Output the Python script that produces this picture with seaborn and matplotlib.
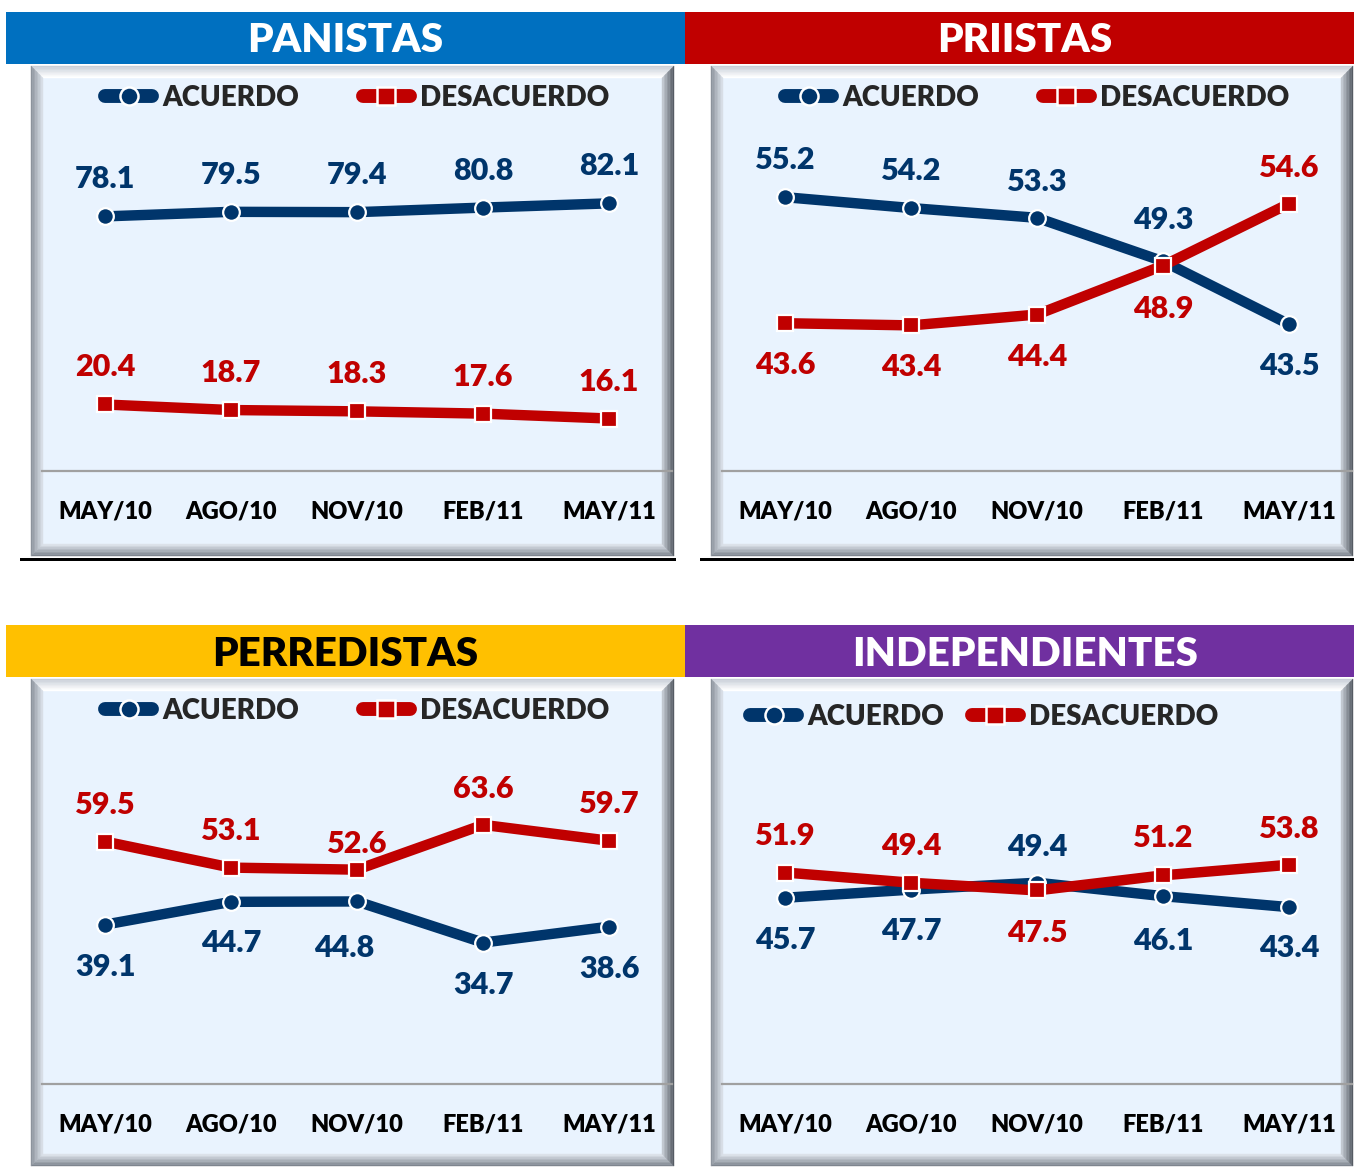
import matplotlib
matplotlib.use("Agg")
import matplotlib.pyplot as plt
from matplotlib.lines import Line2D
from matplotlib.patches import Polygon, Rectangle
import numpy as np
import pandas as pd
import seaborn as sns

# ---------------- data ----------------
PERIODOS = ["MAY/10", "AGO/10", "NOV/10", "FEB/11", "MAY/11"]
SERIES = ["ACUERDO", "DESACUERDO"]

PANISTAS_ACUERDO = [78.1, 79.5, 79.4, 80.8, 82.1]
PANISTAS_DESACUERDO = [20.4, 18.7, 18.3, 17.6, 16.1]
PRIISTAS_ACUERDO = [55.2, 54.2, 53.3, 49.3, 43.5]
PRIISTAS_DESACUERDO = [43.6, 43.4, 44.4, 48.9, 54.6]
PERREDISTAS_ACUERDO = [39.1, 44.7, 44.8, 34.7, 38.6]
PERREDISTAS_DESACUERDO = [59.5, 53.1, 52.6, 63.6, 59.7]
INDEP_ACUERDO = [45.7, 47.7, 49.4, 46.1, 43.4]
INDEP_DESACUERDO = [51.9, 49.4, 47.5, 51.2, 53.8]

TITLES = ["PANISTAS", "PRIISTAS", "PERREDISTAS", "INDEPENDIENTES"]

# ---------------- style ----------------
W, H = 1354, 1167
NAVY = "#00356B"
RED = "#C00000"
HEADER_COLORS = ["#0070C0", "#C00000", "#FFC000", "#7030A0"]
TITLE_COLORS = ["white", "white", "black", "white"]
FACE = "#E9F3FE"
WEIGHT = "heavy"

sns.set_style("white")
plt.rcParams["font.family"] = ["Lato", "DejaVu Sans"]
plt.rcParams["font.weight"] = WEIGHT

fig = plt.figure(figsize=(W / 100, H / 100), dpi=100)
bg = fig.add_axes([0, 0, 1, 1], zorder=0)
bg.set_xlim(0, W)
bg.set_ylim(H, 0)
bg.axis("off")


def mix(c1, c2, t):
    a = np.array(matplotlib.colors.to_rgb(c1))
    b = np.array(matplotlib.colors.to_rgb(c2))
    return tuple(a + (b - a) * t)


def bevel_panel(x0, y0, x1, y1, w=12, n=8):
    bg.add_patch(Rectangle((x0, y0), x1 - x0, y1 - y0, facecolor=FACE, edgecolor="none"))
    sides = {
        "top": ("#C9CFD8", "#FFFFFF"),
        "left": ("#8C939C", "#D8DEE6"),
        "right": ("#555B63", "#C2C8D0"),
        "bottom": ("#7E858E", "#DCE2EA"),
    }
    for i in range(n):
        t0 = w * i / n
        t1 = w * (i + 1) / n
        f = i / max(n - 1, 1)
        polys = {
            "top": [(x0 + t0, y0 + t0), (x1 - t0, y0 + t0), (x1 - t1, y0 + t1), (x0 + t1, y0 + t1)],
            "bottom": [(x0 + t0, y1 - t0), (x1 - t0, y1 - t0), (x1 - t1, y1 - t1), (x0 + t1, y1 - t1)],
            "left": [(x0 + t0, y0 + t0), (x0 + t0, y1 - t0), (x0 + t1, y1 - t1), (x0 + t1, y0 + t1)],
            "right": [(x1 - t0, y0 + t0), (x1 - t0, y1 - t0), (x1 - t1, y1 - t1), (x1 - t1, y0 + t1)],
        }
        for k, pts in polys.items():
            c = mix(sides[k][0], sides[k][1], f)
            bg.add_patch(Polygon(pts, closed=True, facecolor=c, edgecolor=c, lw=0.3))


# layout (pixels, y downward)
HEADERS = [(6, 12, 685, 64), (685, 12, 1354, 64), (6, 625, 685, 677), (685, 625, 1354, 677)]
TITLE_X = [345, 1025, 345, 1025]
PANELS = [(31, 66, 674, 556), (711, 66, 1353, 556), (31, 679, 674, 1166), (711, 679, 1353, 1166)]
AXES = [(42, 145, 672, 471), (722, 145, 1352, 471), (42, 758, 672, 1084), (722, 758, 1352, 1084)]
YLIMS = [(0, 100), (30, 60), (0, 80), (0, 80)]
LEGEND_POS = [(357, 98, 2.3), (1037, 98, 2.3), (357, 711, 2.3), (984, 717, 1.0)]

# label offsets (dx, dy) in pixels, dy positive = downward
OFFSETS = [
    ([(0, -37)] * 5, [(0, -37)] * 5),
    ([(0, -37), (0, -37), (0, -36), (0, -41), (0, 42)],
     [(0, 42), (0, 42), (0, 42), (0, 43), (0, -36)]),
    ([(0, 42), (0, 41), (-13, 47), (0, 42), (0, 42)],
     [(0, -37), (0, -37), (0, -26), (0, -36), (0, -37)]),
    ([(0, 42), (0, 41), (0, -36), (0, 45), (0, 41)],
     [(0, -37), (0, -37), (0, 43), (0, -37), (0, -36)]),
]

DATA = [
    (PANISTAS_ACUERDO, PANISTAS_DESACUERDO),
    (PRIISTAS_ACUERDO, PRIISTAS_DESACUERDO),
    (PERREDISTAS_ACUERDO, PERREDISTAS_DESACUERDO),
    (INDEP_ACUERDO, INDEP_DESACUERDO),
]

# black separators under top panels
bg.add_patch(Rectangle((20, 558), 656, 3, facecolor="black", edgecolor="none"))
bg.add_patch(Rectangle((700, 558), 654, 3, facecolor="black", edgecolor="none"))

for idx in range(4):
    hx0, hy0, hx1, hy1 = HEADERS[idx]
    bg.add_patch(Rectangle((hx0, hy0), hx1 - hx0, hy1 - hy0, facecolor=HEADER_COLORS[idx], edgecolor="none"))
    bg.text(TITLE_X[idx], (hy0 + hy1) / 2 + 3, TITLES[idx], color=TITLE_COLORS[idx],
            fontsize=29, fontweight=WEIGHT, ha="center", va="center")
    bevel_panel(*PANELS[idx])

    ax0, ay0, ax1, ay1 = AXES[idx]
    ax = fig.add_axes([ax0 / W, 1 - ay1 / H, (ax1 - ax0) / W, (ay1 - ay0) / H], zorder=2)
    ax.patch.set_alpha(0)

    acuerdo, desacuerdo = DATA[idx]
    df = pd.DataFrame({
        "periodo": PERIODOS * 2,
        "valor": list(acuerdo) + list(desacuerdo),
        "serie": [SERIES[0]] * 5 + [SERIES[1]] * 5,
    })
    sns.lineplot(data=df, x="periodo", y="valor", hue="serie", style="serie",
                 hue_order=SERIES, style_order=SERIES,
                 palette=[NAVY, RED], markers=["o", "s"], dashes=False,
                 linewidth=7.5, markersize=12, markeredgecolor="white",
                 markeredgewidth=1.6, sort=False, legend=False, ax=ax, zorder=3)

    ax.set_xlim(-0.5, 4.5)
    ax.set_ylim(*YLIMS[idx])
    ax.set_xticks(range(5))
    ax.set_xticklabels(PERIODOS, fontsize=17, fontweight=WEIGHT, color="black")
    ax.set_xticks(np.arange(-0.5, 5.0, 1.0), minor=True)
    ax.tick_params(axis="x", which="major", length=0, pad=21)
    ax.tick_params(axis="x", which="minor", length=6, width=1.5, color="#A0A0A0", direction="out")
    ax.set_yticks([])
    ax.set_xlabel("")
    ax.set_ylabel("")
    for s in ["top", "left", "right"]:
        ax.spines[s].set_visible(False)
    ax.spines["bottom"].set_color("#A0A0A0")
    ax.spines["bottom"].set_linewidth(1.6)
    ax.spines["bottom"].set_zorder(1)

    for s_i, (vals, color) in enumerate([(acuerdo, NAVY), (desacuerdo, RED)]):
        for i, v in enumerate(vals):
            dx, dy = OFFSETS[idx][s_i][i]
            ax.annotate(f"{v:.1f}", xy=(i, v), xytext=(dx * 0.72, -dy * 0.72),
                        textcoords="offset points", ha="center", va="center",
                        fontsize=22, fontweight=WEIGHT, color=color, zorder=5,
                        annotation_clip=False)

    handles = [
        Line2D([], [], color=NAVY, lw=10, marker="o", markersize=13, markeredgecolor="white",
               markeredgewidth=1.8, solid_capstyle="round"),
        Line2D([], [], color=RED, lw=10, marker="s", markersize=13, markeredgecolor="white",
               markeredgewidth=1.8, solid_capstyle="round"),
    ]
    lx, ly, cs = LEGEND_POS[idx]
    leg = ax.legend(handles, SERIES, loc="center", bbox_to_anchor=(lx / W, 1 - ly / H),
                    bbox_transform=fig.transFigure, ncol=2, frameon=False,
                    handlelength=1.7, handletextpad=0.35, columnspacing=cs,
                    borderpad=0, prop={"weight": WEIGHT, "size": 20})

fig.savefig("out.png", dpi=100, facecolor="white")
